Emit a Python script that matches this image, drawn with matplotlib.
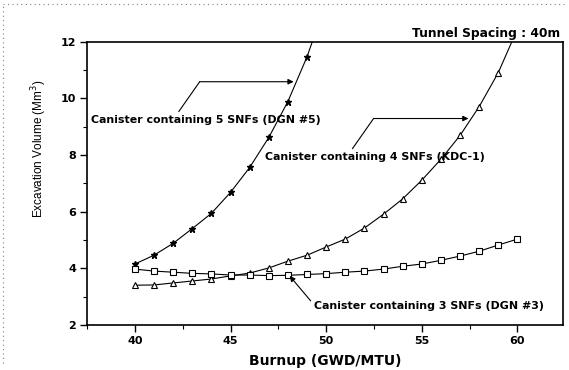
import numpy as np
import matplotlib
matplotlib.use('Agg')
import matplotlib.pyplot as plt
from matplotlib.lines import Line2D
from matplotlib.ticker import MultipleLocator

plt.rcParams['font.family'] = ['Liberation Sans', 'DejaVu Sans']

# Burnup (GWD/MTU) and excavation volume (Mm^3)
burnup_5 = [40, 41, 42, 43, 44, 45, 46, 47, 48, 49, 50]
vol_5 = [4.15, 4.46, 4.88, 5.40, 5.94, 6.68, 7.56, 8.62, 9.89, 11.47, 13.4]

burnup_4 = [40, 41, 42, 43, 44, 45, 46, 47, 48, 49, 50,
            51, 52, 53, 54, 55, 56, 57, 58, 59, 60]
vol_4 = [3.40, 3.41, 3.48, 3.55, 3.62, 3.73, 3.83, 4.01, 4.25, 4.46, 4.75,
         5.03, 5.42, 5.91, 6.45, 7.11, 7.85, 8.69, 9.71, 10.91, 12.45]

burnup_3 = [40, 41, 42, 43, 44, 45, 46, 47, 48, 49, 50,
            51, 52, 53, 54, 55, 56, 57, 58, 59, 60]
vol_3 = [3.97, 3.90, 3.86, 3.82, 3.80, 3.76, 3.76, 3.74, 3.75, 3.78, 3.81,
         3.86, 3.90, 3.97, 4.07, 4.15, 4.28, 4.43, 4.60, 4.82, 5.03]

x_ticks = [40, 45, 50, 55, 60]
y_ticks = [2, 4, 6, 8, 10, 12]

bold_font = 'DejaVu Sans'

fig = plt.figure(figsize=(5.69, 3.70), dpi=100)
ax = fig.add_axes([0.153, 0.122, 0.837, 0.765])

ax.plot(burnup_5, vol_5, '-', color='black', lw=0.8, marker='*', ms=5,
        mfc='black', mec='black')
ax.plot(burnup_4, vol_4, '-', color='black', lw=0.8, marker='^', ms=5,
        mfc='white', mec='black', mew=0.8)
ax.plot(burnup_3, vol_3, '-', color='black', lw=0.8, marker='s', ms=3.8,
        mfc='white', mec='black', mew=0.8)

ax.set_xlim(37.5, 62.4)
ax.set_ylim(2, 12)
ax.set_xticks(x_ticks)
ax.set_yticks(y_ticks)
ax.xaxis.set_minor_locator(MultipleLocator(2.5))
ax.yaxis.set_minor_locator(MultipleLocator(1))
ax.tick_params(which='major', direction='out', length=5, width=1.0,
               labelsize=8, pad=3)
ax.tick_params(which='minor', direction='out', length=3, width=0.8)
for lab in ax.get_xticklabels() + ax.get_yticklabels():
    lab.set_fontweight('bold')
    lab.set_family(bold_font)
for sp in ax.spines.values():
    sp.set_linewidth(1.2)

ax.set_xlabel('Burnup (GWD/MTU)', fontsize=10, fontweight='bold',
              family=bold_font, labelpad=6)
ax.set_ylabel('Excavation Volume (Mm$^3$)', fontsize=8.5)
ax.yaxis.set_label_coords(-0.08, 0.62)

fig.text(0.984, 0.91, 'Tunnel Spacing : 40m', ha='right', va='center',
         fontsize=8.8, fontweight='bold', family=bold_font)

lbl_kw = dict(fontsize=7.9, fontweight='bold', va='center', family=bold_font)
arrow_kw = dict(arrowstyle='-|>', color='black', lw=0.8,
                mutation_scale=8, shrinkA=0, shrinkB=0)

# 5 SNFs label
ax.text(37.7, 9.25, 'Canister containing 5 SNFs (DGN #5)', ha='left', **lbl_kw)
ax.plot([42.3, 43.39], [9.54, 10.59], color='black', lw=0.8)
ax.annotate('', xy=(48.3, 10.59), xytext=(43.39, 10.59), arrowprops=arrow_kw)

# 4 SNFs label
ax.text(46.8, 7.92, 'Canister containing 4 SNFs (KDC-1)', ha='left', **lbl_kw)
ax.plot([51.38, 52.48], [8.23, 9.29], color='black', lw=0.8)
ax.annotate('', xy=(57.44, 9.29), xytext=(52.48, 9.29), arrowprops=arrow_kw)

# 3 SNFs label
ax.text(49.35, 2.67, 'Canister containing 3 SNFs (DGN #3)', ha='left', **lbl_kw)
ax.annotate('', xy=(48.09, 3.73), xytext=(49.19, 2.85), arrowprops=arrow_kw)

# dotted scan border
fig.add_artist(Line2D([0.005, 0.995], [0.99, 0.99], transform=fig.transFigure,
                      color='gray', lw=0.8, ls=(0, (1, 3))))
fig.add_artist(Line2D([0.006, 0.006], [0.02, 0.99], transform=fig.transFigure,
                      color='gray', lw=0.8, ls=(0, (1, 3))))

fig.savefig('out.png', dpi=100)
